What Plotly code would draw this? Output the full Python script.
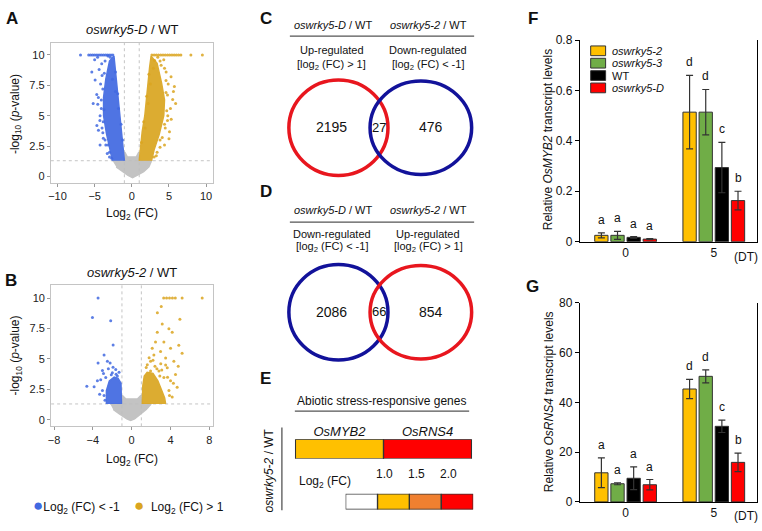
import plotly.graph_objects as go

W, H = 762, 531
FONT = "Liberation Sans"

BLUE = "#4169e1"
GOLD = "#daa520"
GREY = "#bebebe"

# ---------------------------------------------------------------------------
# A  volcano  oswrky5-D / WT   (dense parts as outlines)
a_grey_x = [-2.6, -1.0, -0.95, -0.6, 0.6, 0.95, 1.0, 2.65, 2.3, 1.6, 0.7, 0.1, -0.5, -1.2, -2.1]
a_grey_y = [1.3, 1.3, 2.0, 1.6, 1.6, 2.0, 1.3, 1.3, 0.8, 0.4, 0.1, -0.1, 0.1, 0.4, 0.8]
a_blue_core_x = [-1.0, -1.2, -1.6, -2.0, -2.3, -2.4, -3.0, -3.5, -3.8, -3.8, -3.4, -2.9, -2.6]
a_blue_core_y = [1.3, 2.5, 5.0, 7.5, 9.0, 9.9, 9.5, 8.0, 6.5, 5.0, 3.5, 2.2, 1.3]
a_gold_core_x = [1.0, 1.4, 1.75, 2.1, 2.4, 2.6, 3.4, 4.0, 4.4, 4.3, 3.7, 3.0, 2.65]
a_gold_core_y = [1.3, 3.7, 5.0, 7.5, 9.0, 9.9, 9.3, 7.7, 6.3, 5.0, 3.5, 2.2, 1.3]
a_blue_x = [-6.9, -5.8, -5.55, -5.3, -5.05, -4.8, -4.55, -4.3, -4.05, -3.8, -3.55, -3.3, -3.05, -2.8, -2.55,
            -5.38, -4.94, -4.72, -4.27, -4.49, -4.27, -3.83, -4.58, -4.05, -4.4, -3.9, -4.1, -3.85, -3.7,
            -3.5, -3.3, -3.0, -4.0, -3.75, -3.6, -5.0, -4.6, -2.2, -1.9, -1.45, -1.25, -2.7,
            -4.2, -4.5, -4.1, -4.3, -3.9, -3.6, -3.2, -3.0, -4.7, -5.2, -4.0, -3.2, -2.9, -2.6, -2.2, -1.8]
a_blue_y = [10, 10, 10, 10, 10, 10, 10, 10, 10, 10, 10, 10, 10, 10, 10,
            8.6, 7.94, 6.74, 5.0, 3.8, 2.6, 3.14, 5.94, 9.28, 8.8, 7.2, 6.3, 4.5, 8.5,
            2.6, 1.9, 1.6, 4.0, 5.5, 9.5, 9.6, 9.8, 8.6, 6.8, 4.3, 3.0, 1.5,
            7.6, 6.5, 5.6, 4.6, 3.6, 3.0, 2.6, 2.0, 4.2, 6.0, 8.3, 9.9, 9.8, 8.0, 7.0, 5.6]
a_gold_x = [2.7, 3.0, 3.3, 3.6, 3.9, 4.2, 4.5, 4.8, 5.1, 5.4, 5.7, 6.0, 6.3, 6.6, 7.95, 9.5,
            5.5, 5.73, 5.28, 4.84, 5.07, 4.4, 3.95, 4.62, 3.07, 4.6, 4.4, 3.8, 3.4, 3.0, 4.9,
            5.9, 4.3, 3.5, 2.3, 2.0, 1.6, 1.3, 4.8, 5.2,
            4.6, 4.8, 4.7, 4.5, 4.1, 3.8, 3.3, 5.3, 5.6, 4.4, 3.8, 2.9, 2.5, 2.2, 1.8, 5.0]
a_gold_y = [10, 10, 10, 10, 10, 10, 10, 10, 10, 10, 10, 10, 10, 10, 10, 10,
            6.34, 7.41, 8.2, 5.0, 3.68, 2.6, 9.14, 8.6, 9.54, 6.9, 4.3, 3.0, 2.0, 1.6, 7.6,
            6.0, 9.6, 9.8, 8.4, 6.6, 4.5, 2.8, 4.6, 5.6,
            7.9, 6.7, 5.4, 4.0, 3.2, 2.4, 1.7, 4.7, 7.0, 8.9, 9.5, 8.9, 7.6, 6.0, 4.0, 3.1]

# B  volcano  oswrky5-2 / WT
b_grey_x = [-2.2, -1.05, -0.95, -0.6, 0.6, 0.95, 1.1, 2.0, 1.5, 0.9, 0.3, -0.1, -0.5, -1.3, -1.9]
b_grey_y = [1.3, 1.3, 2.0, 1.7, 1.7, 2.0, 1.3, 1.3, 0.85, 0.45, 0.07, -0.05, 0.07, 0.5, 0.85]
b_blue_core_x = [-1.05, -1.1, -1.4, -1.8, -2.3, -2.6, -2.6]
b_blue_core_y = [1.3, 3.0, 3.4, 3.5, 3.2, 2.4, 1.3]
b_gold_core_x = [1.1, 1.15, 1.3, 1.6, 2.2, 2.7, 3.1, 3.4, 3.5]
b_gold_core_y = [1.3, 2.8, 3.6, 3.9, 3.8, 3.2, 2.4, 1.8, 1.3]
b_blue_x = [-3.46, -4.04, -2.16, -1.91, -3.46, -2.84, -2.5, -2.22, -1.92, -1.64, -3.01, -3.19, -2.67,
            -3.53, -3.87, -3.01, -2.84, -1.99, -1.47, -4.62, -2.9, -2.4, -1.3, -2.75, -3.3, -2.1, -1.6]
b_blue_y = [10, 8.4, 8.14, 6.14, 4.67, 5.33, 4.8, 4.67, 4.32, 4.13, 4.05, 3.28, 3.47,
            3.2, 2.72, 2.4, 2.0, 3.87, 3.6, 2.75, 3.8, 4.2, 3.9, 1.6, 2.1, 3.7, 3.75]
b_gold_x = [3.3, 3.6, 3.9, 4.2, 4.5, 5.2, 7.27, 3.05, 2.65, 4.97, 5.2,
            1.61, 1.95, 2.29, 2.12, 2.46, 2.64, 3.15, 2.98, 3.5, 3.67, 4.01, 4.18, 3.84, 4.35,
            4.52, 4.69, 4.01, 3.32, 4.86, 2.81, 3.32, 3.84, 4.18, 1.95, 2.4, 1.8, 3.0, 3.7,
            2.6, 3.1, 3.5, 2.2, 1.5, 4.3, 3.9, 2.9, 4.8]
b_gold_y = [10, 10, 10, 10, 10, 10, 10, 9.3, 8.8, 8.26, 5.46,
            4.53, 4.8, 5.33, 5.87, 6.4, 7.2, 7.87, 5.6, 5.07, 4.27, 5.87, 7.2, 7.47, 4.8,
            3.73, 2.67, 3.2, 6.4, 6.13, 4.0, 3.47, 2.4, 1.87, 4.0, 4.4, 5.1, 4.6, 3.5,
            4.2, 4.1, 4.5, 4.9, 4.3, 3.0, 2.0, 3.6, 4.4]

fc_cut = 1.0
p_cut_log = 1.3  # -log10(0.05)

# C / D  Venn counts  (left only, shared, right only)
venn_c = [2195, 27, 476]
venn_d = [2086, 66, 854]

# E  log2 fold change of the two stress genes, and the legend bins
e_genes = ["OsMYB2", "OsRNS4"]
e_log2fc = [1.3, 2.2]
e_levels = [0.75, 1.25, 1.75, 2.25]
e_breaks = ["1.0", "1.5", "2.0"]

# F / G  qRT-PCR
genotypes = ["oswrky5-2", "oswrky5-3", "WT", "oswrky5-D"]
bar_colors = ["#ffc000", "#70ad47", "#000000", "#ff0000"]
days = ["0", "5"]
myb2_mean = [[0.025, 0.514], [0.025, 0.514], [0.017, 0.294], [0.010, 0.163]]
myb2_err = [[0.010, 0.146], [0.016, 0.090], [0.003, 0.100], [0.002, 0.037]]
myb2_letters = [["a", "d"], ["a", "d"], ["a", "c"], ["a", "b"]]
rns4_mean = [[11.7, 45.4], [7.3, 50.5], [9.5, 30.4], [6.9, 15.9]]
rns4_err = [[6.0, 3.9], [0.4, 2.6], [4.6, 2.5], [2.1, 3.7]]
rns4_letters = [["a", "d"], ["a", "d"], ["a", "c"], ["a", "b"]]


def px(x):
    return x / W


def py(y):
    return 1 - y / H


fig = go.Figure()
annotations = []
shapes = []


def note(x, y, text, size=12, **kw):
    d = dict(x=px(x), y=py(y), xref="paper", yref="paper", text=text, showarrow=False,
             font=dict(size=size, family=FONT, color="#111"), xanchor="center", yanchor="middle")
    d.update(kw)
    annotations.append(d)


# ---- volcano plots
def volcano(ax, grey, blue_core, gold_core, blue_pts, gold_pts):
    xa, ya = ("x", "y") if ax == 1 else ("x%d" % ax, "y%d" % ax)
    for (xs, ys), col in [(grey, GREY), (blue_core, BLUE), (gold_core, GOLD)]:
        fig.add_trace(go.Scatter(x=xs, y=ys, fill="toself", fillcolor=col, mode="lines",
                                 line=dict(color=col, width=1.5), xaxis=xa, yaxis=ya, opacity=0.92,
                                 showlegend=False, hoverinfo="skip"))
    for (xs, ys), col in [(blue_pts, BLUE), (gold_pts, GOLD)]:
        fig.add_trace(go.Scatter(x=xs, y=ys, mode="markers", marker=dict(color=col, size=3, opacity=0.85),
                                 xaxis=xa, yaxis=ya, showlegend=False))
    for xv in (-fc_cut, fc_cut):
        shapes.append(dict(type="line", xref=xa, yref=ya + " domain", x0=xv, x1=xv, y0=0, y1=1,
                           line=dict(color="#c4c4c4", width=1, dash="dot"), layer="below"))
    shapes.append(dict(type="line", xref=xa + " domain", yref=ya, x0=0, x1=1, y0=p_cut_log, y1=p_cut_log,
                       line=dict(color="#c4c4c4", width=1, dash="dot"), layer="below"))


volcano(1, (a_grey_x, a_grey_y), (a_blue_core_x, a_blue_core_y), (a_gold_core_x, a_gold_core_y),
        (a_blue_x, a_blue_y), (a_gold_x, a_gold_y))
volcano(2, (b_grey_x, b_grey_y), (b_blue_core_x, b_blue_core_y), (b_gold_core_x, b_gold_core_y),
        (b_blue_x, b_blue_y), (b_gold_x, b_gold_y))

vol_axis = dict(showline=True, mirror=True, linecolor="#c4c4c4", linewidth=1, ticks="outside",
                ticklen=3, tickcolor="#999", showgrid=False, zeroline=False,
                tickfont=dict(size=11, family=FONT, color="#222"))

# ---- E heat strip and its legend
e_scale = [[0, "#ffffff"], [0.25, "#ffffff"], [0.25, "#ffc000"], [0.5, "#ffc000"],
           [0.5, "#f08030"], [0.75, "#f08030"], [0.75, "#ff0000"], [1, "#ff0000"]]
fig.add_trace(go.Heatmap(z=[e_log2fc], x=e_genes, y=[0], colorscale=e_scale, zmin=0.5, zmax=2.5,
                         showscale=False, xaxis="x3", yaxis="y3"))
fig.add_trace(go.Heatmap(z=[e_levels], x=[0, 1, 2, 3], y=[0], colorscale=e_scale, zmin=0.5, zmax=2.5,
                         showscale=False, xaxis="x4", yaxis="y4"))
for i in range(len(e_genes)):
    shapes.append(dict(type="rect", xref="x3", yref="y3", x0=i - 0.5, x1=i + 0.5, y0=-0.5, y1=0.5,
                       line=dict(color="#333", width=1.2)))
for i in range(len(e_levels)):
    shapes.append(dict(type="rect", xref="x4", yref="y4", x0=i - 0.5, x1=i + 0.5, y0=-0.5, y1=0.5,
                       line=dict(color="#333", width=1.2)))
for i, lab in enumerate(e_breaks):
    annotations.append(dict(x=i + 0.5, y=0.5, xref="x4", yref="y4", text=lab, showarrow=False,
                            xshift=7, yshift=20, font=dict(size=12, family=FONT, color="#111")))

# ---- F / G bars
BARGAP, BARGROUPGAP = 0.268, 0.175
slot = (1 - BARGAP) / len(genotypes)
for ax, means, errs, letters in [(5, myb2_mean, myb2_err, myb2_letters), (6, rns4_mean, rns4_err, rns4_letters)]:
    for i, g in enumerate(genotypes):
        fig.add_trace(go.Bar(x=days, y=means[i], name=g,
                             error_y=dict(type="data", array=errs[i], color="#333", thickness=1.2, width=3.5),
                             marker=dict(color=bar_colors[i], line=dict(color="#333", width=1)),
                             xaxis="x%d" % ax, yaxis="y%d" % ax, showlegend=False))
        for j in range(len(days)):
            annotations.append(dict(x=j + (i - 1.5) * slot, y=means[i][j] + errs[i][j],
                                    xref="x%d" % ax, yref="y%d" % ax, text=letters[i][j], showarrow=False,
                                    yshift=13, font=dict(size=12, family=FONT, color="#111")))

bar_x = dict(showline=True, linecolor="#000", linewidth=1, ticks="", showgrid=False, zeroline=False,
             range=[-0.52, 1.49], tickfont=dict(size=12, family=FONT, color="#111"))
bar_y = dict(showline=True, mirror=True, linecolor="#000", linewidth=1, ticks="outside", ticklen=4,
             tickcolor="#000", showgrid=False, zeroline=False, tickfont=dict(size=12, family=FONT, color="#111"))

# F legend (drawn by hand to keep the tight spacing of the original)
for i, g in enumerate(genotypes):
    yc = 45 + i * 12.7
    shapes.append(dict(type="rect", xref="paper", yref="paper", x0=px(590), x1=px(605),
                       y0=py(yc + 5), y1=py(yc - 5), fillcolor=bar_colors[i], line=dict(color="#333", width=1)))
    label = g if g == "WT" else "<i>%s</i>" % g
    note(609, yc, label, 11, xanchor="left")


# ---- Venn diagrams
def venn(top, counts, left_col, right_col):
    shapes.append(dict(type="circle", xref="paper", yref="paper", x0=px(287), x1=px(386.5),
                       y0=py(top + 98), y1=py(top), line=dict(color=left_col, width=3.5)))
    shapes.append(dict(type="circle", xref="paper", yref="paper", x0=px(368.5), x1=px(470.5),
                       y0=py(top + 97), y1=py(top + 1), line=dict(color=right_col, width=3.5)))
    cy = top + 48.5
    for xc, c in zip([330, 377.5, 430], counts):
        note(xc, cy, str(c), 14 if c > 100 else 13)


RED_C, BLUE_C = "#e8161e", "#12129a"

note(332, 18, "<i>oswrky5-D</i> / WT", 11)
note(427, 18, "<i>oswrky5-2</i> / WT", 11)
shapes.append(dict(type="line", xref="paper", yref="paper", x0=px(288), x1=px(473), y0=py(30), y1=py(30),
                   line=dict(color="#555", width=1.3)))
note(330, 44, "Up-regulated", 11)
note(330, 60, "[log<sub>2</sub> (FC) > 1]", 11)
note(427, 44, "Down-regulated", 11)
note(427, 60, "[log<sub>2</sub> (FC) < -1]", 11)
venn(75, venn_c, RED_C, BLUE_C)

note(332, 209, "<i>oswrky5-D</i> / WT", 11)
note(427, 209, "<i>oswrky5-2</i> / WT", 11)
shapes.append(dict(type="line", xref="paper", yref="paper", x0=px(288), x1=px(473), y0=py(221), y1=py(221),
                   line=dict(color="#555", width=1.3)))
note(330, 233, "Down-regulated", 11)
note(330, 247, "[log<sub>2</sub> (FC) < -1]", 11)
note(427, 233, "Up-regulated", 11)
note(427, 247, "[log<sub>2</sub> (FC) > 1]", 11)
venn(264.5, venn_d, BLUE_C, RED_C)

# ---- E texts
note(380, 405, "Abiotic stress-responsive genes", 12)
shapes.append(dict(type="line", xref="paper", yref="paper", x0=px(293), x1=px(468), y0=py(415), y1=py(415),
                   line=dict(color="#555", width=1.3)))
shapes.append(dict(type="line", xref="paper", yref="paper", x0=px(280), x1=px(280), y0=py(432), y1=py(517),
                   line=dict(color="#555", width=1.3)))
note(268, 476, "<i>oswrky5-2</i> / WT", 12, textangle=-90)
note(323, 488, "Log<sub>2</sub> (FC)", 12)

# ---- volcano texts
note(130, 23, "<i>oswrky5-D</i> / WT", 13)
note(130, 273, "<i>oswrky5-2</i> / WT", 13)
note(13, 110, "-log<sub>10</sub> (<i>p</i>-value)", 12, textangle=-90)
note(13, 358, "-log<sub>10</sub> (<i>p</i>-value)", 12, textangle=-90)
note(130, 213, "Log<sub>2</sub> (FC)", 12)
note(130, 465, "Log<sub>2</sub> (FC)", 12)
note(28, 512, '<span style="color:%s;font-size:17px">●</span>Log<sub>2</sub> (FC) &lt; -1' % BLUE, 12,
     xanchor="left")
note(130, 512, '<span style="color:%s;font-size:17px">●</span>&nbsp;&nbsp;Log<sub>2</sub> (FC) &gt; 1' % GOLD, 12,
     xanchor="left")

# ---- bar texts
note(548, 136, "Relative <i>OsMYB2</i> transcript levels", 12, textangle=-90)
note(548, 405, "Relative <i>OsRNS4</i> transcript levels", 12, textangle=-90)
note(760, 257, "(DT)", 12, xanchor="right")
note(760, 523, "(DT)", 12, xanchor="right")

# ---- panel letters
for lab, x, y in [("A", 9, 12), ("B", 8, 281), ("C", 264, 12), ("D", 264, 190), ("E", 264, 382),
                  ("F", 532, 12), ("G", 532, 287)]:
    note(x, y, "<b>%s</b>" % lab, 17)

hidden = dict(visible=False, showgrid=False, zeroline=False)

fig.update_layout(
    width=W, height=H, margin=dict(l=0, r=0, t=0, b=0),
    paper_bgcolor="white", plot_bgcolor="white",
    font=dict(family=FONT, size=12, color="#111"),
    barmode="group", bargap=BARGAP, bargroupgap=BARGROUPGAP,
    showlegend=False,
    xaxis=dict(vol_axis, domain=[px(48), px(211)], range=[-10.9, 10.95], tickvals=[-10, -5, 0, 5, 10], anchor="y"),
    yaxis=dict(vol_axis, domain=[py(181), py(36.7)], range=[-0.55, 11], tickvals=[0, 2.5, 5, 7.5, 10], anchor="x"),
    xaxis2=dict(vol_axis, domain=[px(48.3), px(210.7)], range=[-8.3, 8.37], tickvals=[-8, -4, 0, 4, 8], anchor="y2"),
    yaxis2=dict(vol_axis, domain=[py(430.7), py(285.7)], range=[-0.54, 11.06], tickvals=[0, 2.5, 5, 7.5, 10],
                anchor="x2"),
    xaxis3=dict(domain=[px(293), px(471)], side="top", showgrid=False, zeroline=False, showline=False,
                ticks="", tickfont=dict(size=13, family=FONT, color="#111"), anchor="y3",
                tickvals=e_genes, ticktext=["<i>%s</i>" % g for g in e_genes]),
    yaxis3=dict(hidden, domain=[py(464), py(444)], range=[-0.5, 0.5], anchor="x3"),
    xaxis4=dict(hidden, domain=[px(344), px(472)], range=[-0.5, 3.5], anchor="y4"),
    yaxis4=dict(hidden, domain=[py(516), py(500)], range=[-0.5, 0.5], anchor="x4"),
    xaxis5=dict(bar_x, domain=[px(579), px(757)], anchor="y5"),
    yaxis5=dict(bar_y, domain=[py(241), py(34)], range=[0, 0.8], dtick=0.2, anchor="x5"),
    xaxis6=dict(bar_x, domain=[px(579), px(757)], anchor="y6"),
    yaxis6=dict(bar_y, domain=[py(508.3), py(304)], range=[0, 80], dtick=20, anchor="x6"),
    annotations=annotations,
    shapes=shapes,
)

# the page's default body margin would push the 762x531 figure out of the window
fig.write_html("out.html", config={"displayModeBar": False},
               post_script="document.body.style.margin='0';")
